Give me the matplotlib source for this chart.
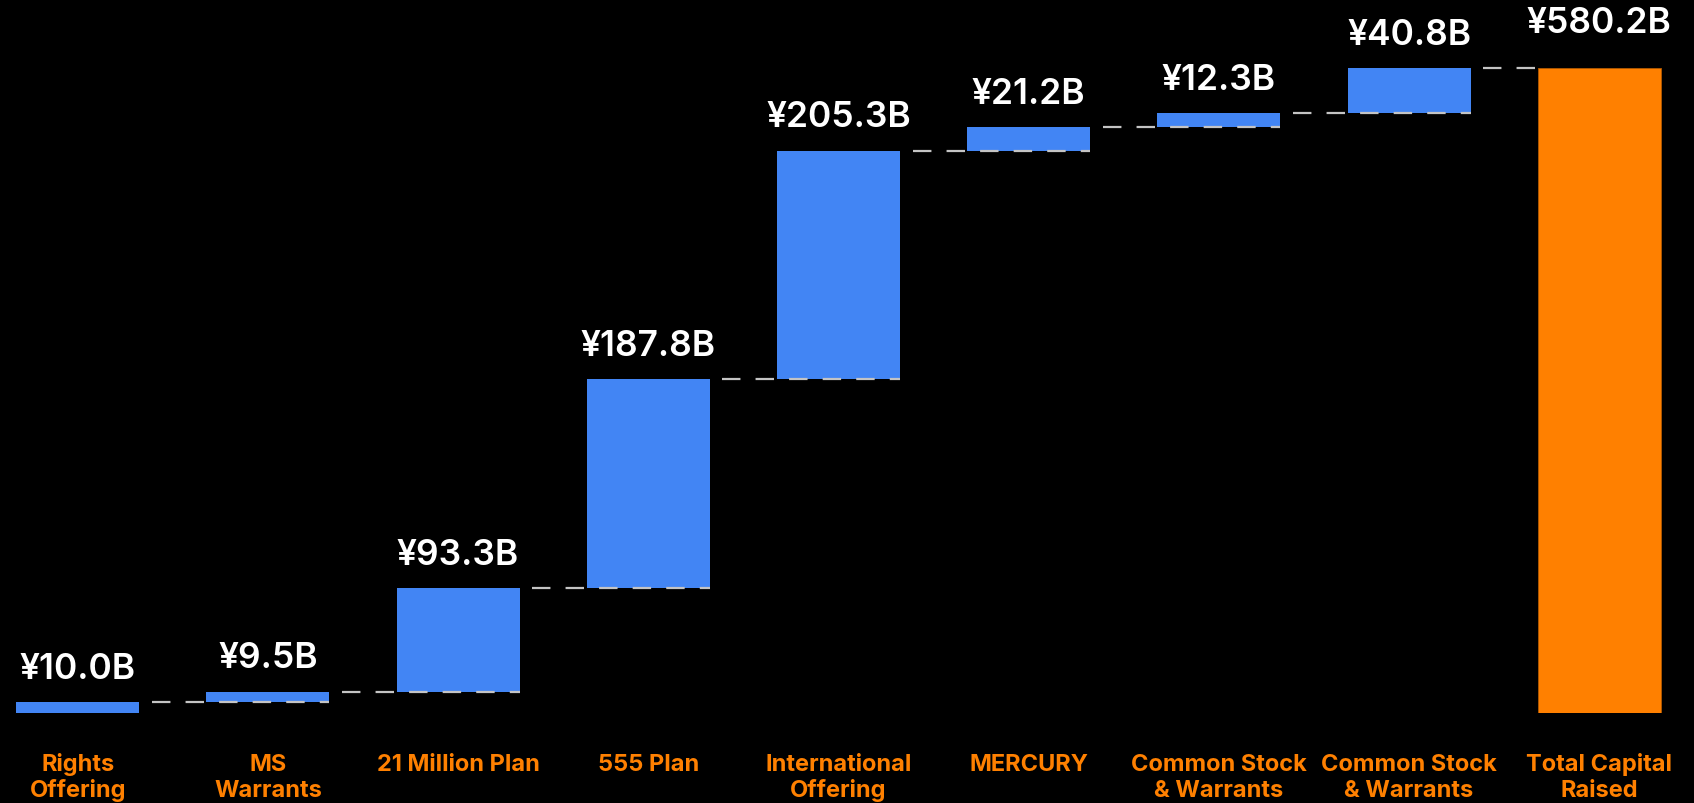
import matplotlib
matplotlib.use("Agg")
import matplotlib.pyplot as plt

plt.rcParams['font.family'] = ['Inter', 'DejaVu Sans']

# data (billions of yen)
categories = ["Rights\nOffering", "MS\nWarrants", "21 Million Plan", "555 Plan",
              "International\nOffering", "MERCURY", "Common Stock\n& Warrants",
              "Common Stock\n& Warrants", "Total Capital\nRaised"]
steps = [10.0, 9.5, 93.3, 187.8, 205.3, 21.2, 12.3, 40.8]
total = 580.2
labels = ["¥10.0B", "¥9.5B", "¥93.3B", "¥187.8B", "¥205.3B", "¥21.2B",
          "¥12.3B", "¥40.8B", "¥580.2B"]

blue = "#4285F4"
orange = "#FF8000"
w = 0.647

fig = plt.figure(figsize=(16.94, 8.04), dpi=100, facecolor="black")
ax = fig.add_axes([0, 0.1116, 1, 0.8884])
ax.set_facecolor("black")

# running bottoms for the waterfall
bottoms = []
run = 0
for v in steps:
    bottoms.append(run)
    run += v
tops = [b + v for b, v in zip(bottoms, steps)]

xs = list(range(len(steps)))
ax.bar(xs, steps, bottom=bottoms, width=w, color=blue, zorder=2)
ax.bar(len(steps), total, width=w, color=orange, edgecolor="#b35a00",
       linewidth=0.6, zorder=2)

# dashed connectors
for i in range(len(steps)):
    x0 = i + 0.39
    x1 = i + 1 + w / 2 if i < len(steps) - 1 else i + 1 - w / 2
    ax.plot([x0, x1], [tops[i], tops[i]], color="#c4c4c4", lw=1.6,
            ls=(0, (8.3, 6.8)), zorder=3)

# value labels
all_tops = tops + [total]
for i, (t, lab) in enumerate(zip(all_tops, labels)):
    off = 26 if i == len(labels) - 1 else 17.5
    ax.annotate(lab, (i, t), xytext=(0, off), textcoords="offset points",
                ha="center", va="baseline", color="white", fontsize=25.5,
                fontweight="semibold", annotation_clip=False)

# category labels, one text per line
for i, c in enumerate(categories):
    for k, line in enumerate(c.split("\n")):
        ax.text(i, -50.7 - 23.6 * k, line, ha="center", va="baseline",
                color=orange, fontsize=17, fontweight="bold", clip_on=False)

ax.set_xlim(-0.4085, 8.498)
ax.set_ylim(0, 642.2)
ax.axis("off")

fig.savefig("out.png", dpi=100, facecolor="black")
